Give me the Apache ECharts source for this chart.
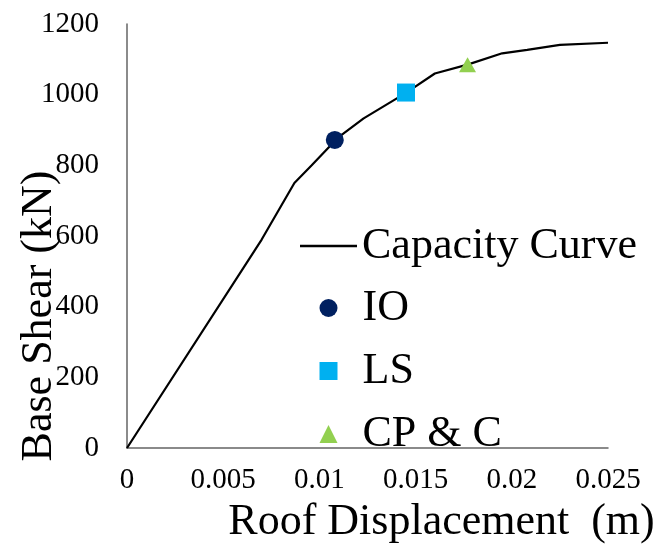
<!DOCTYPE html>
<html>
<head>
<meta charset="utf-8">
<script src="https://cdn.jsdelivr.net/npm/echarts@6/dist/echarts.min.js"></script>
<style>html,body{margin:0;padding:0;background:#fff}#c{width:668px;height:546px}</style>
</head>
<body>
<div id="c"></div>
<script>
// Capacity curve (roof displacement in m, base shear in kN)
const curveDisp  = [0, 0.0070, 0.0087, 0.0096, 0.0110, 0.0123, 0.0145, 0.0160, 0.0177, 0.0195, 0.0208, 0.0225, 0.0250];
const curveShear = [0, 590,    750,    800,    880,    933,    1005,   1060,   1085,   1117,   1127,   1141,   1147];
// Performance points
const ioPoint = [0.0108, 872];
const lsPoint = [0.0145, 1006];
const cpPoint = [0.0177, 1085];
const xTicks = [0, 0.005, 0.01, 0.015, 0.02, 0.025];
const yTicks = [0, 200, 400, 600, 800, 1000, 1200];

const curveData = curveDisp.map((x, i) => [x, curveShear[i]]);
const font = '"Liberation Serif", "Times New Roman", serif';
const legendText = {fontFamily: font, fontSize: 44, color: '#000', lineHeight: 44};

const chart = echarts.init(document.getElementById('c'), null, {renderer: 'canvas'});
chart.setOption({
  animation: false,
  backgroundColor: '#fff',
  grid: {left: 127, right: 60, top: 24, bottom: 98, containLabel: false, outerBoundsMode: 'none'},
  legend: [
    {
      orient: 'vertical', left: 295, top: 219,
      itemWidth: 57, itemHeight: 2.5,
      textStyle: Object.assign({}, legendText, {padding: [0, 0, 0, 0]}),
      data: [{name: 'Capacity Curve', icon: 'rect', itemStyle: {color: '#000'}}]
    },
    {
      orient: 'vertical', left: 314.5, top: 281, itemGap: 19,
      itemWidth: 18, itemHeight: 18,
      textStyle: Object.assign({}, legendText, {padding: [0, 0, 0, 20]}),
      data: [{name: 'IO', icon: 'circle'}, {name: 'LS', icon: 'rect'}, {name: 'CP & C', icon: 'triangle'}]
    }
  ],
  xAxis: {
    type: 'value', min: xTicks[0], max: xTicks[xTicks.length - 1], interval: 0.005,
    name: 'Roof Displacement  (m)', nameLocation: 'middle', nameGap: 52, nameMoveOverlap: false,
    nameTextStyle: {fontFamily: font, fontSize: 44, color: '#000', padding: [0, 0, 0, 148]},
    axisLine: {show: true, onZero: false, lineStyle: {color: '#646464', width: 1.5}},
    axisTick: {show: false},
    splitLine: {show: false},
    axisLabel: {fontFamily: font, fontSize: 29, color: '#000', margin: 18,
      formatter: v => String(+v.toFixed(3))}
  },
  yAxis: {
    type: 'value', min: yTicks[0], max: yTicks[yTicks.length - 1], interval: 200,
    name: 'Base Shear (kN)', nameLocation: 'middle', nameGap: 66, nameMoveOverlap: false,
    nameTextStyle: {fontFamily: font, fontSize: 44, color: '#000', padding: [0, 160, 0, 0]},
    axisLine: {show: true, lineStyle: {color: '#646464', width: 1.5}},
    axisTick: {show: false},
    splitLine: {show: false},
    axisLabel: {fontFamily: font, fontSize: 29, color: '#000', margin: 28,
      formatter: v => String(v)}
  },
  series: [
    {name: 'Capacity Curve', type: 'line', data: curveData, showSymbol: false, symbol: 'none',
     lineStyle: {color: '#000', width: 2.2}, itemStyle: {color: '#000'}, z: 2},
    {name: 'IO', type: 'scatter', data: [ioPoint], symbol: 'circle', symbolSize: 18,
     itemStyle: {color: '#002060', opacity: 1}, z: 3},
    {name: 'LS', type: 'scatter', data: [lsPoint], symbol: 'rect', symbolSize: 18,
     itemStyle: {color: '#00B0F0', opacity: 1}, z: 3},
    {name: 'CP & C', type: 'scatter', data: [cpPoint], symbol: 'triangle', symbolSize: [17, 15],
     itemStyle: {color: '#92D050', opacity: 1}, z: 3}
  ]
});
</script>
</body>
</html>
